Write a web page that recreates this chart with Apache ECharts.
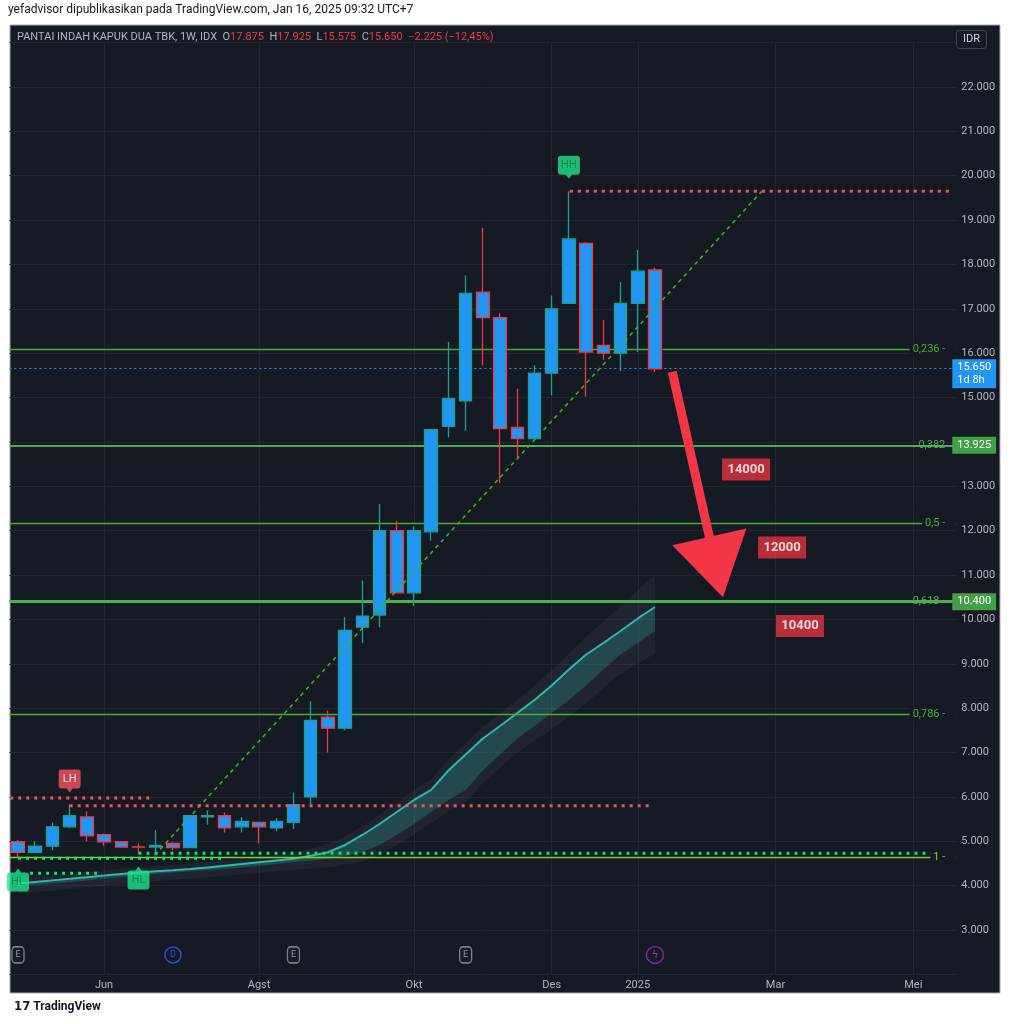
<!DOCTYPE html>
<html><head><meta charset="utf-8">
<script src="https://cdn.jsdelivr.net/npm/echarts@6/dist/echarts.min.js"></script>
<style>html,body{margin:0;padding:0;background:#fff;}#chart{width:1010px;height:1024px;}</style>
</head><body><div id="chart"></div>
<script>
// ---------- DATA ----------
const weeks = ['2024-04-29','2024-05-06','2024-05-13','2024-05-20','2024-05-27','2024-06-03','2024-06-10','2024-06-17','2024-06-24','2024-07-01','2024-07-08','2024-07-15','2024-07-22','2024-07-29','2024-08-05','2024-08-12','2024-08-19','2024-08-26','2024-09-02','2024-09-09','2024-09-16','2024-09-23','2024-09-30','2024-10-07','2024-10-14','2024-10-21','2024-10-28','2024-11-04','2024-11-11','2024-11-18','2024-11-25','2024-12-02','2024-12-09','2024-12-16','2024-12-23','2024-12-30','2025-01-06','2025-01-13','2025-01-20','2025-01-27','2025-02-03','2025-02-10','2025-02-17','2025-02-24','2025-03-03','2025-03-10','2025-03-17','2025-03-24','2025-03-31','2025-04-07','2025-04-14','2025-04-21','2025-04-28','2025-05-05','2025-05-12'];
const opens  = [4990,4750,4890,5325,5550,5150,4990,4875,4870,4950,4860,5550,5575,5325,5425,5300,5425,6000,7800,7550,9825,10100,12000,10600,11975,14350,14925,17375,16800,14325,14075,15550,17125,18475,16175,16000,17125,17875];
const closes = [4750,4890,5325,5575,5125,4990,4870,4870,4910,4860,5575,5575,5300,5450,5325,5450,5825,7725,7550,9750,10075,12000,10600,12000,14275,14975,17350,16800,14300,14075,15550,17000,18575,16025,16000,17125,17850,15650];
const lows   = [4640,4740,4800,5300,5000,4900,4860,4710,4760,4800,4860,5375,5200,5200,4950,5225,5275,5825,7000,7500,9475,9825,10600,10300,11775,14100,14250,15725,13075,13650,14075,15050,17125,15025,15850,15600,16025,15575];
const highs  = [5030,5000,5425,5825,5675,5175,5000,4950,5250,4990,5600,5700,5650,5550,5425,5525,6100,8150,7950,10050,10875,12600,12225,12100,14300,16250,17750,18825,16900,15200,15725,17300,19650,18500,16750,17600,18325,17925];

const maLine    = [4047,4083,4119,4153,4191,4227,4265,4295,4324,4347,4376,4410,4448,4487,4527,4568,4606,4674,4753,4917,5142,5390,5661,5931,6157,6596,6957,7317,7599,7892,8185,8512,8872,9210,9469,9740,10022,10281];
const maLower   = [3990,4020,4047,4083,4119,4153,4191,4227,4265,4295,4324,4347,4376,4410,4448,4487,4527,4568,4606,4674,4753,4917,5142,5390,5661,5931,6157,6596,6957,7317,7599,7892,8185,8512,8872,9210,9469,9740];
const bandUpper = [4167,4203,4239,4273,4311,4347,4385,4415,4444,4467,4496,4530,4568,4607,4647,4688,4726,4844,4933,5107,5342,5600,5881,6161,6397,6846,7217,7587,7879,8192,8505,8852,9232,9610,9949,10300,10662,11001];
const bandLower = [3830,3860,3887,3923,3959,3993,4031,4067,4105,4135,4164,4187,4216,4250,4288,4327,4357,4388,4416,4474,4543,4697,4912,5150,5411,5671,5887,6316,6657,6997,7259,7532,7805,8112,8452,8770,8999,9240];

const xTickWeeks  = ['2024-06-03','2024-08-05','2024-10-07','2024-12-02','2025-01-06','2025-03-03','2025-04-28'];
const xTickLabels = ['Jun','Agst','Okt','Des','2025','Mar','Mei'];

const fibRatios = ['0,236','0,382','0,5','0,618','0,786','1'];
const fibPrices = [16080,13925,12165,10400,7860,4650];
const fibTagged = [false,true,false,true,false,false];

const lastPrice = 15650;
const countdown = '1d 8h';

// horizontal dotted pivot levels (week position from/to, price)
const levelKinds  = ['res','res','res','sup','sup','sup'];
const levelPrices = [5975,5800,19650,4730,4617,4280];
const levelFrom   = [-0.45,3.0,32.05,7.0,0.0,0.7];
const levelTo     = [7.8,36.8,54.2,54.2,11.9,4.8];

// pivot labels
const pivotText  = ['LH','HH','HL','HL'];
const pivotWeek  = [3,32,0,7];
const pivotPrice = [6360,20190,4128,4173];

// fib trend (dashed diagonal)
const trendWeeks  = [7.95,43.2];
const trendPrices = [4690,19650];

// projected arrow
const arrowWeeks  = [38.0,40.55];
const arrowPrices = [15580,11180];

// note boxes
const noteText  = ['14000','12000','10400'];
const noteWeek  = [42.29,44.38,45.42];
const notePrice = [13380,11620,9850];

// event markers row
const eventKind = ['E','D','E','E','S'];
const eventWeek = [0,9,16,26,37];
const eventRowPrice = 2440;

// ---------- HELPERS ----------
const fmt = v => String(Math.round(v)).replace(/\B(?=(\d{3})+(?!\d))/g, '.');
const FONT = 'Roboto, "Liberation Sans", sans-serif';
const BG = '#161a25';
const RED = '#f23645';
const candles = opens.map((o,i)=>[o, closes[i], lows[i], highs[i]]);
const bandDiff = bandUpper.map((u,i)=>u - bandLower[i]);
const maDiff = maLine.map((m,i)=>m - maLower[i]);
const fibWidths = [1.3,2,1.3,3,1.3,1.3];
const fibColors = ['#43b02a','#4caf50','#43b02a','#4caf50','#43b02a','#7ed321'];
const NOLINE = {color:'rgba(0,0,0,0)', width:0, type:'solid'};

// fib lines (below candles)
const fibLineData = fibPrices.map((p,i)=>({
  yAxis: p,
  lineStyle:{color:fibColors[i], width:fibWidths[i], type:'solid', opacity:1},
  label:{show:false}
}));
fibLineData.push({yAxis: lastPrice, lineStyle:{color:'#2196f3', width:1, type:[2,3]}, label:{show:false}});

// fib labels and price tags (above everything)
const fibLabelData = [];
fibPrices.forEach((p,i)=>{
  const hideLine = !fibTagged[i];
  fibLabelData.push({
    yAxis: p,
    lineStyle:NOLINE,
    label:{show:true, position:'insideEnd', formatter: fibRatios[i] + (i===1 ? '' : ' -'),
      color:fibColors[i], fontSize:11, fontFamily:FONT,
      backgroundColor: hideLine ? BG : 'transparent', padding:[1,11,1,3], distance:0}
  });
  if (fibTagged[i]) {
    fibLabelData.push({
      yAxis: p,
      lineStyle:NOLINE,
      label:{show:true, position:'end', formatter: fmt(p), color:'#fff', fontSize:11, fontFamily:FONT,
        backgroundColor:'#43a047', padding:[3,5,3,5], distance:-4}
    });
  }
});
fibLabelData.push({
  yAxis: lastPrice,
  lineStyle:NOLINE,
  label:{show:true, position:'end', formatter: fmt(lastPrice) + '\n' + countdown, color:'#fff', fontSize:11, lineHeight:13,
    fontFamily:FONT, backgroundColor:'#2196f3', padding:[2,5,1,5], distance:-4, offset:[0,5]}
});

const levelSeries = levelPrices.map((p,i)=>({
  type:'line', xAxisIndex:1, yAxisIndex:0, z:4, silent:true, symbol:'none',
  data:[[levelFrom[i], p],[levelTo[i], p]],
  lineStyle:{color: levelKinds[i]==='res' ? '#f7525f' : '#00e676', width:3, type:[3,5], cap:'butt'}
}));

const downPin = 'path://M3,0L19,0Q22,0 22,3L22,16Q22,19 19,19L14,19L11,23L8,19L3,19Q0,19 0,16L0,3Q0,0 3,0Z';
const upPin = 'path://M3,4L8,4L11,0L14,4L19,4Q22,4 22,7L22,20Q22,23 19,23L3,23Q0,23 0,20L0,7Q0,4 3,4Z';
const pivotData = pivotText.map((t,i)=>{
  const high = t[1] === 'H';
  const isRed = t === 'LH';
  return {
    value:[pivotWeek[i], pivotPrice[i]],
    symbol: high ? downPin : upPin,
    itemStyle:{color: isRed ? '#f7525f' : '#1ee58a'},
    label:{show:true, position:'inside', formatter:t, color: isRed ? '#ffffff' : '#0d7a44', fontSize:11, fontFamily:FONT,
      offset:[0, high ? -2 : 2]}
  };
});

const eventData = eventKind.map((k,i)=>{
  if (k === 'E') return {value:[eventWeek[i], eventRowPrice], symbol:'roundRect', symbolSize:[12,16],
    itemStyle:{color:BG, borderColor:'#9598a1', borderWidth:1.5},
    label:{show:true, position:'inside', formatter:'E', color:'#b2b5be', fontSize:9, fontFamily:FONT}};
  if (k === 'D') return {value:[eventWeek[i], eventRowPrice], symbol:'circle', symbolSize:16,
    itemStyle:{color:BG, borderColor:'#2962ff', borderWidth:1.5},
    label:{show:true, position:'inside', formatter:'D', color:'#2962ff', fontSize:9, fontFamily:FONT}};
  return {value:[eventWeek[i], eventRowPrice], symbol:'circle', symbolSize:17,
    itemStyle:{color:BG, borderColor:'#9c27b0', borderWidth:1.5},
    label:{show:true, position:'inside', formatter:'ϟ', color:'#ab47bc', fontSize:11, fontFamily:'DejaVu Sans'}};
});

const chart = echarts.init(document.getElementById('chart'), null, {renderer:'canvas'});
const GRID = {left:9.4, top:42.6, width:946.9, height:931.8};

chart.setOption({
  backgroundColor:'#ffffff',
  animation:false,
  textStyle:{fontFamily:FONT},
  title:[
    {text:'yefadvisor dipublikasikan pada TradingView.com, Jan 16, 2025 09:32 UTC+7', left:8, top:4, padding:0,
      textStyle:{color:'#131722', fontSize:12, fontWeight:'normal', fontFamily:FONT}},
    {text:'{g|PANTAI INDAH KAPUK DUA TBK, 1W, IDX  O}{r|17.875}{g|  H}{r|17.925}{g|  L}{r|15.575}{g|  C}{r|15.650}{r|  −2.225 (−12,45%)}',
      left:17, top:32, padding:0,
      textStyle:{fontSize:11, fontWeight:'normal', rich:{
        g:{color:'#b2b5be', fontSize:11, fontFamily:FONT},
        r:{color:RED, fontSize:11, fontFamily:FONT}}}},
    {text:'IDR', left:956, top:30, padding:[4,7,4,7], borderColor:'#434651', borderWidth:1, borderRadius:3,
      textStyle:{color:'#d1d4dc', fontSize:11, fontWeight:'normal', fontFamily:FONT}},
    {text:'{l|17}{t| TradingView}', left:14, top:1000, padding:0,
      textStyle:{rich:{l:{color:'#131722', fontSize:13, fontWeight:'bold', fontFamily:'DejaVu Sans Condensed'},
        t:{color:'#131722', fontSize:12, fontFamily:FONT}}}}
  ],
  graphic:[
    {type:'rect', z:-10, silent:true, shape:{x:10, y:25, width:990, height:968},
      style:{fill:BG, stroke:'#a8abb3', lineWidth:1}}
  ],
  grid:GRID,
  xAxis:[
    {type:'category', data:weeks, boundaryGap:true,
      axisLine:{show:false}, axisTick:{show:false}, splitLine:{show:false},
      axisLabel:{color:'#b2b5be', fontSize:11, margin:5, fontFamily:FONT,
        interval:(idx, val)=> xTickWeeks.indexOf(val) >= 0,
        formatter:(val)=>{ const k = xTickWeeks.indexOf(val); return k >= 0 ? xTickLabels[k] : ''; }}},
    {type:'value', min:-0.5, max:weeks.length - 0.5, show:false, splitLine:{show:false}}
  ],
  yAxis:[{type:'value', position:'right', min:2000, max:23000, interval:1000, scale:false,
    axisLine:{show:false}, axisTick:{show:false},
    splitLine:{show:true, lineStyle:{color:'#222631', width:1}},
    axisLabel:{color:'#b2b5be', fontSize:11, margin:5, fontFamily:FONT,
      formatter:v=> (v < 3000 || v > 22000) ? '' : fmt(v)}}],
  series:[
    {name:'grid', type:'line', data:maLine, symbol:'none', lineStyle:{opacity:0}, z:0, silent:true,
      markLine:{z:0, silent:true, symbol:'none', animation:false, label:{show:false},
        lineStyle:{color:'#232733', width:1, type:'solid'},
        data: xTickWeeks.map(w=>({xAxis:w}))}},
    {name:'bandBase', type:'line', stack:'band', data:bandLower, symbol:'none', lineStyle:{opacity:0}, z:1, silent:true},
    {name:'band', type:'line', stack:'band', data:bandDiff, symbol:'none', lineStyle:{opacity:0}, z:1, silent:true,
      areaStyle:{color:'rgba(120,123,134,0.17)'}},
    {name:'maBase', type:'line', stack:'ma', data:maLower, symbol:'none', lineStyle:{opacity:0}, z:1, silent:true},
    {name:'ma', type:'line', stack:'ma', data:maDiff, symbol:'none', z:1, silent:true,
      lineStyle:{color:'#2dbba9', width:2}, areaStyle:{color:'rgba(38,166,154,0.42)'}},
    {name:'levels', type:'line', data:maLine, symbol:'none', lineStyle:{opacity:0}, z:2, silent:true,
      markLine:{z:2, silent:true, symbol:'none', animation:false, data:fibLineData}},
    {name:'PANI', type:'candlestick', data:candles, z:3, barWidth:13,
      itemStyle:{color:'#2196f3', color0:'#2196f3', borderColor:'#1fa08c', borderColor0:RED, borderWidth:1.3}},
    {name:'trend', type:'line', xAxisIndex:1, z:4, silent:true, symbol:'none',
      data: trendWeeks.map((w,i)=>[w, trendPrices[i]]),
      lineStyle:{color:'#43b02a', width:1.5, type:[4,4]}},
    ...levelSeries,
    {name:'levelLabels', type:'line', data:maLine, symbol:'none', lineStyle:{opacity:0}, z:5, silent:true,
      markLine:{z:5, silent:true, symbol:'none', animation:false, data:fibLabelData}},
    {name:'arrow', type:'line', xAxisIndex:1, z:6, silent:true, symbol:'none',
      data:[[arrowWeeks[0], arrowPrices[0]]], lineStyle:{opacity:0},
      markLine:{z:6, silent:true, animation:false, symbol:['none','triangle'], symbolSize:[76,62], label:{show:false},
        lineStyle:{color:RED, width:9, type:'solid', opacity:1},
        itemStyle:{color:RED},
        data:[[{coord:[arrowWeeks[0], arrowPrices[0]]},{coord:[arrowWeeks[1], arrowPrices[1]]}]]}},
    {name:'notes', type:'scatter', xAxisIndex:1, z:7, silent:true, symbol:'rect', symbolSize:[48,22],
      itemStyle:{color:'#e33340'},
      label:{show:true, position:'inside', color:'#fff', fontSize:13, fontWeight:'bold', fontFamily:FONT,
        formatter:p=>noteText[p.dataIndex]},
      data: noteWeek.map((w,i)=>[w, notePrice[i]])},
    {name:'pivots', type:'scatter', xAxisIndex:1, z:7, silent:true, symbolSize:[22,23], symbolKeepAspect:false,
      data:pivotData},
    {name:'events', type:'scatter', xAxisIndex:1, z:7, silent:true, data:eventData}
  ]
});
</script></body></html>
